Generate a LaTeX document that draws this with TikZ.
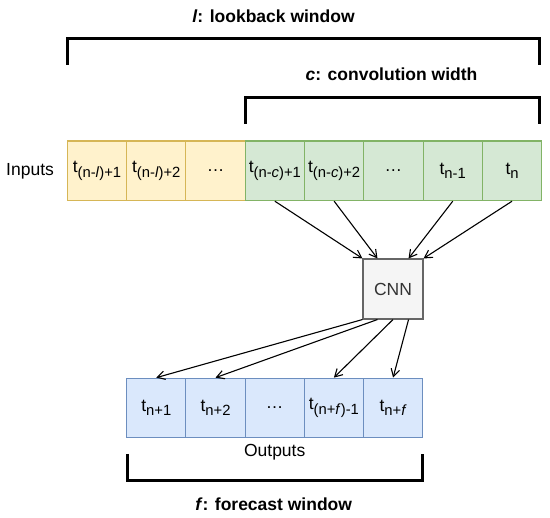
\documentclass[tikz,border=0pt]{standalone}
\usepackage{fontspec}
\setmainfont{Liberation Sans}
\usetikzlibrary{arrows.meta}
\definecolor{yfill}{HTML}{FFF2CC}
\definecolor{ydraw}{HTML}{D6B656}
\definecolor{gfill}{HTML}{D5E8D4}
\definecolor{gdraw}{HTML}{82B366}
\definecolor{bfill}{HTML}{DAE8FC}
\definecolor{bdraw}{HTML}{6C8EBF}
\definecolor{cfill}{HTML}{F5F5F5}
\definecolor{cdraw}{HTML}{666666}
\definecolor{ctext}{HTML}{333333}
\newcommand\sbs[1]{\raisebox{-0.26em}{\fontsize{14.8pt}{14.8pt}\selectfont #1}}
\begin{document}
\begin{tikzpicture}[x=1pt,y=-1pt,
  basefont/.style={font=\fontsize{17.5pt}{20pt}\selectfont},
  cell/.style={draw, minimum width=59.3pt, minimum height=59.6pt, inner sep=0pt, line width=1.1pt, basefont},
  ycell/.style={cell, fill=yfill, draw=ydraw},
  gcell/.style={cell, fill=gfill, draw=gdraw},
  bcell/.style={cell, fill=bfill, draw=bdraw, minimum width=59.2pt},
  cnnbox/.style={draw=cdraw, fill=cfill, text=ctext, minimum width=60pt, minimum height=60pt, inner sep=0pt, line width=1.1pt, basefont},
  label/.style={basefont, inner sep=0pt},
  title/.style={font=\fontsize{17.5pt}{20pt}\selectfont\bfseries, inner sep=0pt},
  bracket/.style={line width=3pt, draw=black},
  arr/.style={line width=1.1pt, -{Straight Barb[length=7.5pt,width=8.5pt,line width=1.1pt]}}
]
\useasboundingbox (0,0) rectangle (550,518);

% brackets
\coordinate (lb1) at (67.6,65);
\coordinate (lb2) at (67.6,38.6);
\coordinate (lb3) at (539.6,38.6);
\coordinate (lb4) at (539.6,65);
\draw[bracket] (lb1) -- (lb2) -- (lb3) -- (lb4);
\coordinate (cb1) at (245.6,124);
\coordinate (cb2) at (245.6,97.6);
\coordinate (cb3) at (539.6,97.6);
\coordinate (cb4) at (539.6,124);
\draw[bracket] (cb1) -- (cb2) -- (cb3) -- (cb4);
\coordinate (fb1) at (127,454);
\coordinate (fb2) at (127,480.6);
\coordinate (fb3) at (422.6,480.6);
\coordinate (fb4) at (422.6,454);
\draw[bracket] (fb1) -- (fb2) -- (fb3) -- (fb4);

% titles
\node[title] (tl) at (273.5,16) {\textit{l}: lookback window};
\node[title] (tc) at (391.5,74) {\textit{c}: convolution width};
\node[title] (tf) at (273.7,504) {\textit{f}: forecast window};

% inputs
\node[label, anchor=west] (inlab) at (6,170.8) {Inputs};
\node[ycell] (i1) at (96.95,170.85) {t\sbs{(n-\textit{l})+1}};
\node[ycell] (i2) at (156.25,170.85) {t\sbs{(n-\textit{l})+2}};
\node[ycell] (i3) at (215.55,170.85) {…};
\node[gcell] (i4) at (274.85,170.85) {t\sbs{(n-\textit{c})+1}};
\node[gcell] (i5) at (334.15,170.85) {t\sbs{(n-\textit{c})+2}};
\node[gcell] (i6) at (393.45,170.85) {…};
\node[gcell] (i7) at (452.75,170.85) {t\sbs{n-1}};
\node[gcell] (i8) at (512.05,170.85) {t\sbs{n}};

% CNN
\node[cnnbox] (cnn) at (393,289) {CNN};

% outputs
\node[bcell] (o1) at (156.3,408) {t\sbs{n+1}};
\node[bcell] (o2) at (215.5,408) {t\sbs{n+2}};
\node[bcell] (o3) at (274.7,408) {…};
\node[bcell] (o4) at (333.9,408) {t\sbs{(n+\textit{f})-1}};
\node[bcell] (o5) at (393.1,408) {t\sbs{n+\textit{f}}};
\node[label] (outlab) at (274.7,452.7) {Outputs};

% arrows in
\draw[arr] (i4.south) -- (cnn.north west);
\draw[arr] (i5.south) -- ([xshift=15pt]cnn.north west);
\draw[arr] (i7.south) -- ([xshift=-15pt]cnn.north east);
\draw[arr] (i8.south) -- (cnn.north east);

% arrows out
\draw[arr] (cnn.south west) -- (o1.north);
\draw[arr] ([xshift=15pt]cnn.south west) -- (o2.north);
\draw[arr] (cnn.south) -- (o4.north);
\draw[arr] ([xshift=-15pt]cnn.south east) -- (o5.north);
\end{tikzpicture}
\end{document}
